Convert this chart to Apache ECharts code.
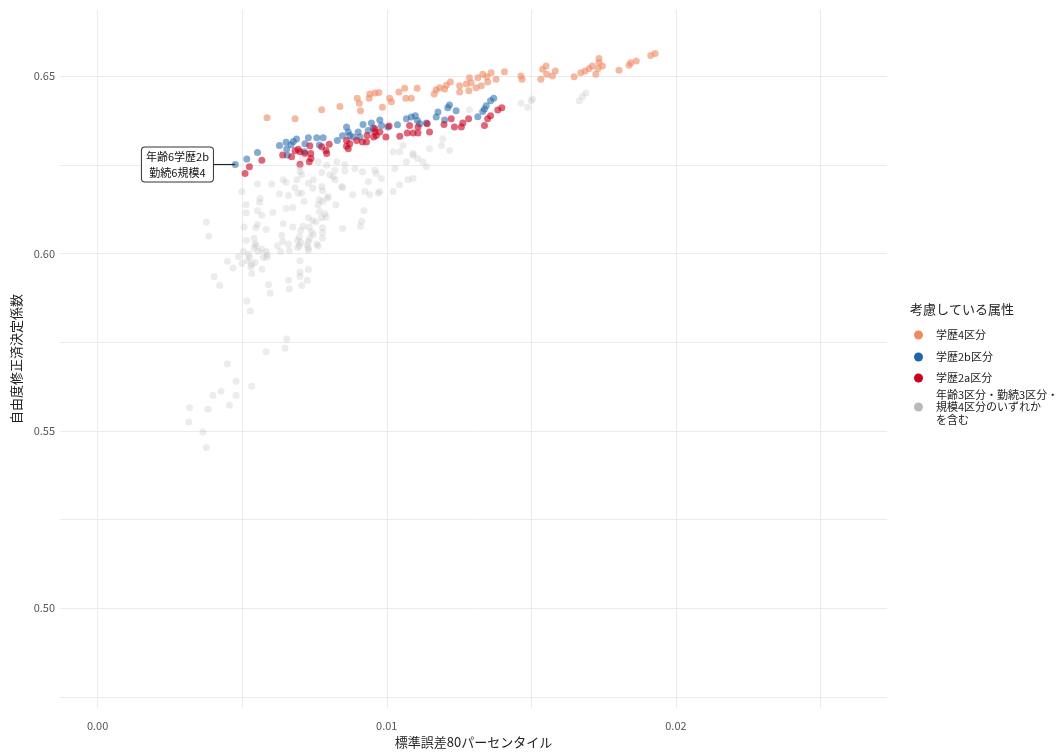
<!DOCTYPE html>
<html><head><meta charset="utf-8">
<script src="https://cdn.jsdelivr.net/npm/echarts@6/dist/echarts.min.js"></script>
<style>html,body{margin:0;padding:0;background:#fff}#c{width:1059px;height:754px}</style>
</head><body><div id="c"></div>
<script>
const FONT = '"Noto Sans CJK JP","Noto Sans",sans-serif';
const categories = ['学歴4区分', '学歴2b区分', '学歴2a区分', '年齢3区分・勤続3区分・\n規模4区分のいずれか\nを含む'];
const colors = ['#ef8a62', '#2166ac', '#ca0020', '#bababa'];
const legendTitle = '考慮している属性';
const xTitle = '標準誤差80パーセンタイル';
const yTitle = '自由度修正済決定係数';
const xTicks = [0, 0.01, 0.02];
const xGrid = [0, 0.005, 0.01, 0.015, 0.02, 0.025];
const yTicks = [0.50, 0.55, 0.60, 0.65];
const yGrid = [0.475, 0.50, 0.525, 0.55, 0.575, 0.60, 0.625, 0.65];
const annotation = { x: 0.00476, y: 0.6251, text: '年齢6学歴2b\n勤続6規模4' };

const edu4 = [[0.00586,0.6383],[0.00683,0.6380],[0.00775,0.6406],[0.00838,0.6415],[0.00898,0.6438],[0.00905,0.6424],[0.00909,0.6403],[0.00939,0.6438],[0.00941,0.6450],[0.00959,0.6453],[0.00973,0.6454],[0.00985,0.6413],[0.01010,0.6438],[0.01016,0.6428],[0.01042,0.6456],[0.01062,0.6466],[0.01066,0.6438],[0.01085,0.6438],[0.01105,0.6466],[0.01164,0.6450],[0.01171,0.6462],[0.01183,0.6468],[0.01200,0.6464],[0.01206,0.6475],[0.01220,0.6484],[0.01252,0.6473],[0.01252,0.6456],[0.01275,0.6478],[0.01286,0.6496],[0.01292,0.6482],[0.01315,0.6496],[0.01332,0.6506],[0.01346,0.6499],[0.01349,0.6484],[0.01361,0.6510],[0.01378,0.6492],[0.01407,0.6513],[0.01464,0.6501],[0.01468,0.6492],[0.01533,0.6492],[0.01539,0.6520],[0.01551,0.6529],[0.01553,0.6506],[0.01573,0.6501],[0.01583,0.6515],[0.01648,0.6499],[0.01671,0.6510],[0.01686,0.6515],[0.01700,0.6522],[0.01711,0.6529],[0.01723,0.6506],[0.01731,0.6522],[0.01734,0.6538],[0.01734,0.6550],[0.01746,0.6529],[0.01803,0.6517],[0.01838,0.6531],[0.01844,0.6538],[0.01863,0.6543],[0.01913,0.6559],[0.01928,0.6564],[0.01309,0.6468],[0.01327,0.6473],[0.01284,0.6459]];

const edu2b = [[0.00476,0.6251],[0.00516,0.6267],[0.00553,0.6285],[0.00629,0.6305],[0.00652,0.6314],[0.00654,0.6295],[0.00669,0.6307],[0.00677,0.6316],[0.00688,0.6323],[0.00717,0.6310],[0.00729,0.6327],[0.00715,0.6287],[0.00758,0.6327],[0.00780,0.6327],[0.00767,0.6306],[0.00656,0.6277],[0.00829,0.6319],[0.00847,0.6332],[0.00861,0.6357],[0.00867,0.6343],[0.00872,0.6333],[0.00884,0.6329],[0.00901,0.6343],[0.00907,0.6329],[0.00918,0.6364],[0.00936,0.6347],[0.00947,0.6368],[0.00953,0.6354],[0.00976,0.6377],[0.00982,0.6361],[0.01004,0.6357],[0.01037,0.6363],[0.01068,0.6380],[0.01085,0.6385],[0.01099,0.6389],[0.01106,0.6375],[0.01114,0.6366],[0.01171,0.6385],[0.01177,0.6399],[0.01200,0.6377],[0.01211,0.6411],[0.01217,0.6419],[0.01240,0.6403],[0.01315,0.6386],[0.01332,0.6401],[0.01338,0.6408],[0.01359,0.6431],[0.01370,0.6438],[0.01137,0.6368],[0.01344,0.6417]];

const edu2a = [[0.00510,0.6226],[0.00525,0.6245],[0.00568,0.6263],[0.00640,0.6278],[0.00671,0.6273],[0.00683,0.6290],[0.00694,0.6294],[0.00700,0.6287],[0.00700,0.6252],[0.00717,0.6282],[0.00734,0.6304],[0.00737,0.6282],[0.00738,0.6268],[0.00732,0.6259],[0.00775,0.6301],[0.00790,0.6291],[0.00792,0.6282],[0.00801,0.6308],[0.00861,0.6319],[0.00861,0.6303],[0.00867,0.6296],[0.00872,0.6310],[0.00896,0.6319],[0.00916,0.6315],[0.00930,0.6315],[0.00932,0.6333],[0.00955,0.6329],[0.00959,0.6343],[0.00964,0.6333],[0.00959,0.6352],[0.00976,0.6343],[0.00997,0.6329],[0.01008,0.6360],[0.01045,0.6331],[0.01071,0.6340],[0.01079,0.6361],[0.01091,0.6340],[0.01108,0.6340],[0.01108,0.6357],[0.01140,0.6366],[0.01148,0.6343],[0.01198,0.6364],[0.01223,0.6380],[0.01234,0.6357],[0.01258,0.6357],[0.01263,0.6368],[0.01283,0.6380],[0.01338,0.6361],[0.01349,0.6380],[0.01359,0.6389],[0.01384,0.6405],[0.01398,0.6411]];

const others = [[0.00499,0.6175],[0.00553,0.6196],[0.00602,0.6196],[0.00642,0.6208],[0.00652,0.6201],[0.00689,0.6208],[0.00729,0.6198],[0.00683,0.6186],[0.00694,0.6170],[0.00706,0.6170],[0.00744,0.6184],[0.00775,0.6189],[0.00778,0.6177],[0.00821,0.6208],[0.00847,0.6186],[0.00882,0.6166],[0.00924,0.6175],[0.00936,0.6203],[0.00970,0.6170],[0.00629,0.6168],[0.00660,0.6164],[0.00562,0.6156],[0.00560,0.6145],[0.00514,0.6138],[0.00714,0.6147],[0.00767,0.6152],[0.00778,0.6147],[0.00763,0.6138],[0.00798,0.6161],[0.00824,0.6138],[0.00675,0.6130],[0.00652,0.6127],[0.00606,0.6116],[0.00553,0.6121],[0.00568,0.6108],[0.00514,0.6115],[0.00507,0.6075],[0.00553,0.6082],[0.00583,0.6068],[0.00642,0.6084],[0.00675,0.6075],[0.00711,0.6077],[0.00729,0.6101],[0.00744,0.6093],[0.00755,0.6089],[0.00767,0.6119],[0.00775,0.6101],[0.00786,0.6112],[0.00790,0.6103],[0.00778,0.6073],[0.00732,0.6075],[0.00740,0.6061],[0.00746,0.6054],[0.00778,0.6059],[0.00778,0.6043],[0.00758,0.6026],[0.00729,0.6035],[0.00729,0.6015],[0.00702,0.6065],[0.00698,0.6047],[0.00691,0.6037],[0.00698,0.6022],[0.00729,0.6009],[0.00691,0.6017],[0.00660,0.6026],[0.00663,0.6009],[0.00637,0.6052],[0.00640,0.6034],[0.00622,0.6022],[0.00633,0.6006],[0.00541,0.6043],[0.00545,0.6028],[0.00541,0.6015],[0.00514,0.6037],[0.00568,0.6012],[0.00583,0.6006],[0.00587,0.5996],[0.00573,0.5989],[0.00522,0.5998],[0.00525,0.5989],[0.00518,0.5980],[0.00533,0.5970],[0.00530,0.5963],[0.00499,0.5972],[0.00487,0.5991],[0.00449,0.5978],[0.00468,0.5959],[0.00533,0.5944],[0.00568,0.5956],[0.00403,0.5935],[0.00422,0.5910],[0.00376,0.6089],[0.00384,0.6049],[0.00700,0.5980],[0.00729,0.5955],[0.00725,0.5925],[0.00700,0.5947],[0.00700,0.5935],[0.00706,0.5910],[0.00660,0.5925],[0.00663,0.5900],[0.00591,0.5913],[0.00597,0.5888],[0.00516,0.5866],[0.00528,0.5838],[0.00654,0.5759],[0.00648,0.5733],[0.00583,0.5723],[0.00449,0.5689],[0.00479,0.5640],[0.00533,0.5626],[0.00427,0.5612],[0.00399,0.5600],[0.00479,0.5600],[0.00456,0.5572],[0.00318,0.5565],[0.00382,0.5561],[0.00315,0.5525],[0.00364,0.5497],[0.00376,0.5453],[0.00913,0.6091],[0.00909,0.6077],[0.00921,0.6121],[0.00847,0.6071],[0.00700,0.6231],[0.00706,0.6222],[0.00746,0.6208],[0.00763,0.6259],[0.00775,0.6229],[0.00792,0.6249],[0.00803,0.6222],[0.00815,0.6217],[0.00827,0.6259],[0.00855,0.6233],[0.00709,0.6268],[0.00700,0.6245],[0.00794,0.6156],[0.00547,0.6073],[0.00504,0.6006],[0.00556,0.6006],[0.00545,0.5975],[0.00585,0.5989],[0.00763,0.6022],[0.00734,0.6043],[0.00548,0.6022],[0.00702,0.6031],[0.00725,0.6024],[0.00821,0.6235],[0.00855,0.6251],[0.00890,0.6240],[0.00916,0.6231],[0.00959,0.6235],[0.00964,0.6226],[0.00982,0.6212],[0.01022,0.6287],[0.01045,0.6287],[0.01091,0.6277],[0.01068,0.6259],[0.01073,0.6208],[0.01091,0.6212],[0.01125,0.6259],[0.01137,0.6245],[0.01045,0.6194],[0.00976,0.6175],[0.01028,0.6240],[0.00844,0.6189],[0.00941,0.6166],[0.01022,0.6175],[0.01286,0.6406],[0.01464,0.6424],[0.01487,0.6413],[0.01499,0.6431],[0.01504,0.6436],[0.01666,0.6431],[0.01677,0.6443],[0.01689,0.6453],[0.01194,0.6324],[0.01189,0.6305],[0.01217,0.6291],[0.01056,0.6305],[0.01091,0.6282],[0.01148,0.6296],[0.01107,0.6268]];

const seriesData = [edu4, edu2b, edu2a, others];
const opacities = [0.6, 0.55, 0.6, 0.28];
const drawOrder = [3, 0, 1, 2];

const chart = echarts.init(document.getElementById('c'), null, { renderer: 'canvas' });

const series = drawOrder.map(i => {
  const s = {
    type: 'scatter',
    name: categories[i],
    data: seriesData[i],
    symbol: 'circle',
    symbolSize: 7,
    itemStyle: { color: colors[i], opacity: opacities[i] },
    silent: true,
    z: 2 + i
  };
  if (i === 1) {
    s.markLine = {
      silent: true, symbol: 'none', animation: false,
      lineStyle: { color: '#222', width: 1.1, type: 'solid', opacity: 1 },
      label: { show: false },
      data: [[{ coord: [annotation.x - 0.00081, annotation.y] }, { coord: [annotation.x, annotation.y] }]]
    };
    s.markPoint = {
      silent: true, animation: false,
      symbol: 'circle', symbolSize: 2,
      itemStyle: { color: 'rgba(0,0,0,0)', opacity: 1 },
      label: {
        show: true, position: [-56.8, 1],
        align: 'center', verticalAlign: 'middle',
        formatter: annotation.text,
        fontFamily: FONT, fontSize: 11, lineHeight: 16, color: '#111', opacity: 1,
        backgroundColor: '#fff', borderColor: '#333', borderWidth: 1, borderRadius: 3,
        padding: [1, 4, 1, 4]
      },
      data: [{ coord: [annotation.x, annotation.y] }]
    };
  }
  return s;
});

const legendY = [335, 357, 378, 407];
const graphic = [{
  type: 'text', left: 910, top: 303,
  style: { text: legendTitle, font: '13px ' + FONT, fill: '#222' }
}];
categories.forEach((c, i) => {
  graphic.push({ type: 'circle', shape: { cx: 918.5, cy: legendY[i], r: 4.5 }, style: { fill: colors[i] } });
  graphic.push({
    type: 'text', x: 936, y: legendY[i],
    style: { text: c, font: '11px ' + FONT, fill: '#222', verticalAlign: 'middle', lineHeight: 12.5 }
  });
});

chart.setOption({
  animation: false,
  backgroundColor: '#fff',
  grid: { left: 60, right: 172, top: 10, bottom: 39, containLabel: false },
  xAxis: {
    type: 'value', min: -0.0013, max: 0.0273,
    axisLine: { show: false },
    axisTick: { show: false, customValues: xGrid },
    axisLabel: { customValues: xTicks, formatter: v => v.toFixed(2), color: '#555', fontSize: 11, margin: 12, fontFamily: FONT },
    splitLine: { show: true, lineStyle: { color: '#ebebeb', width: 1 } },
    name: xTitle, nameLocation: 'middle', nameGap: 25,
    nameTextStyle: { fontSize: 13, color: '#222', fontFamily: FONT }
  },
  yAxis: {
    type: 'value', min: 0.4718, max: 0.6687,
    axisLine: { show: false },
    axisTick: { show: false, customValues: yGrid },
    axisLabel: { customValues: yTicks, formatter: v => v.toFixed(2), color: '#555', fontSize: 11, margin: 5, fontFamily: FONT },
    splitLine: { show: true, lineStyle: { color: '#ebebeb', width: 1 } },
    name: yTitle, nameLocation: 'middle', nameGap: 31,
    nameTextStyle: { fontSize: 13, color: '#222', fontFamily: FONT }
  },
  series: series,
  graphic: graphic
});
</script></body></html>
